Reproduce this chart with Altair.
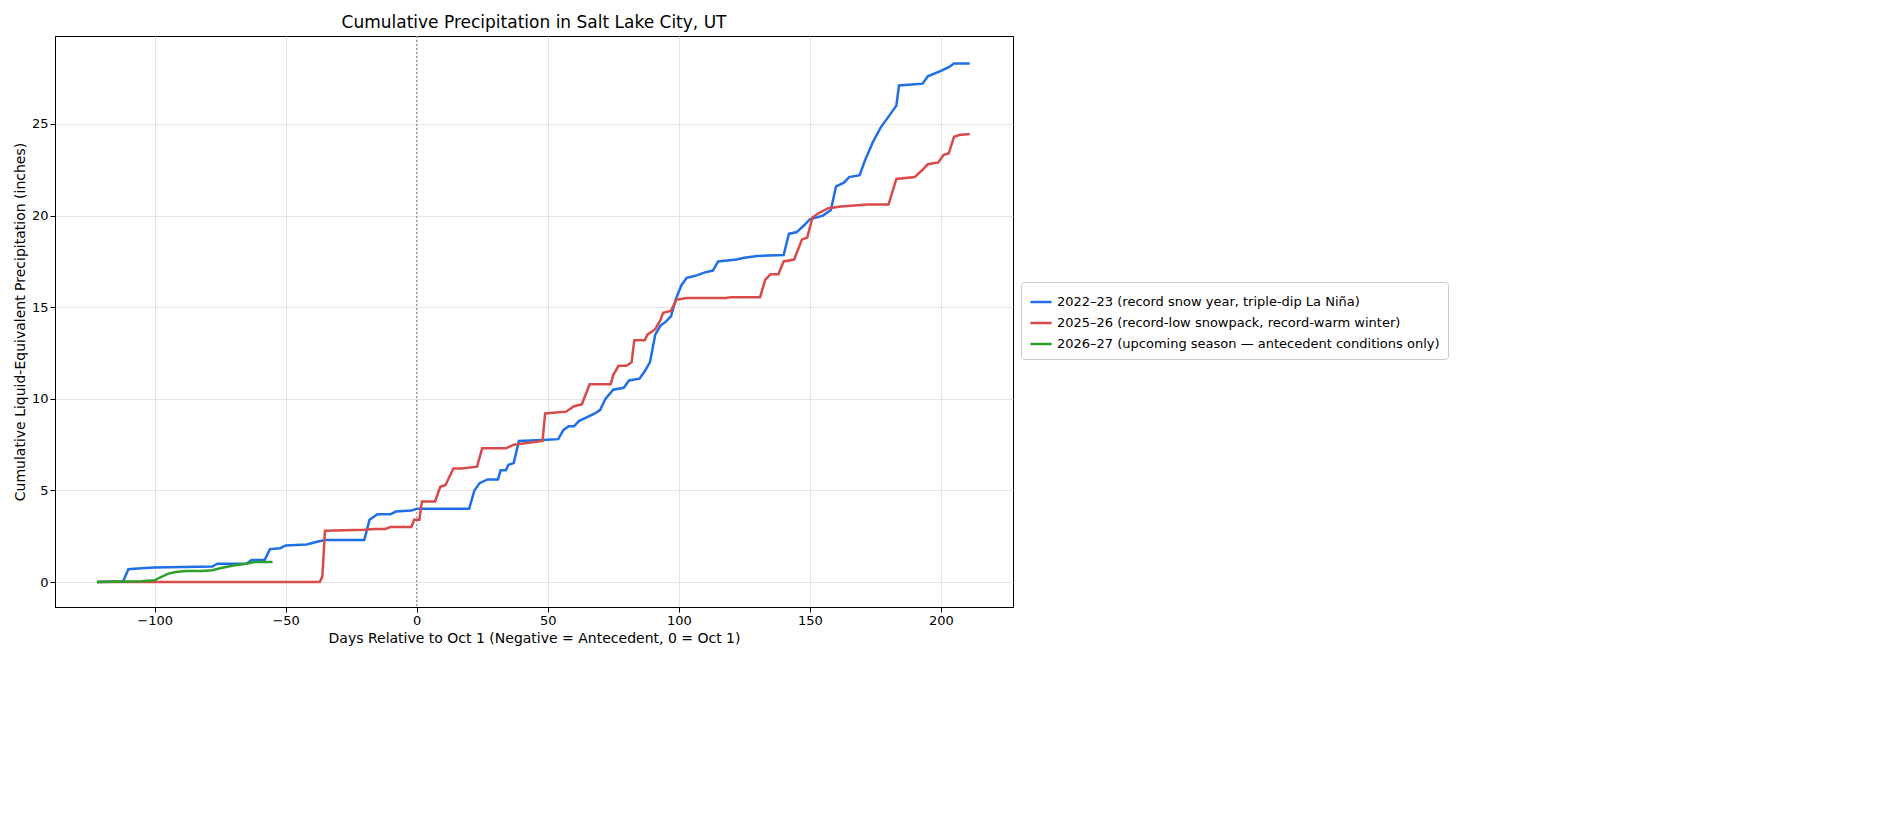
import pandas as pd
import altair as alt

blue_days = [-122, -112, -110, -105, -100, -78, -76, -65, -63, -58, -56, -52, -50, -42, -38, -35, -20, -18, -15, -10, -8, -2, 0, 20, 22, 24, 27, 31, 32, 34, 35, 37, 39, 48, 54, 56, 58, 60, 62, 65, 68, 70, 72, 75, 79, 81, 85, 87, 89, 91, 93, 95, 97, 99, 101, 103, 106, 110, 113, 115, 122, 125, 130, 140, 142, 145, 148, 150, 155, 158, 160, 163, 165, 169, 171, 174, 177, 180, 183, 184, 193, 195, 200, 203, 205, 211]
blue_vals = [0, 0.05, 0.7, 0.75, 0.8, 0.85, 1.0, 1.0, 1.2, 1.2, 1.8, 1.85, 2.0, 2.05, 2.2, 2.3, 2.3, 3.4, 3.7, 3.7, 3.85, 3.9, 4.0, 4.0, 5.0, 5.4, 5.6, 5.6, 6.1, 6.1, 6.4, 6.5, 7.7, 7.75, 7.8, 8.3, 8.5, 8.5, 8.8, 9.0, 9.2, 9.4, 10.0, 10.5, 10.6, 11.0, 11.1, 11.5, 12.0, 13.5, 14.0, 14.2, 14.5, 15.5, 16.2, 16.6, 16.7, 16.9, 17.0, 17.5, 17.6, 17.7, 17.8, 17.85, 19.0, 19.1, 19.5, 19.8, 20.0, 20.3, 21.6, 21.8, 22.1, 22.2, 23.0, 24.0, 24.8, 25.4, 26.0, 27.1, 27.2, 27.6, 27.9, 28.1, 28.3, 28.3]

red_days = [-122, -37, -36, -35, -20, -16, -12, -10, -2, -1, 1, 2, 7, 9, 11, 14, 17, 23, 25, 34, 37, 48, 49, 57, 60, 63, 66, 74, 75, 77, 80, 82, 83, 87, 88, 91, 93, 94, 97, 99, 103, 118, 120, 131, 133, 135, 138, 140, 144, 147, 149, 151, 153, 157, 162, 172, 180, 183, 190, 193, 195, 199, 201, 203, 205, 207, 211]
red_vals = [0, 0, 0.3, 2.8, 2.85, 2.9, 2.9, 3.0, 3.0, 3.4, 3.4, 4.4, 4.4, 5.2, 5.3, 6.2, 6.2, 6.3, 7.3, 7.3, 7.5, 7.7, 9.2, 9.3, 9.6, 9.7, 10.8, 10.8, 11.3, 11.8, 11.8, 12.0, 13.2, 13.2, 13.5, 13.8, 14.3, 14.7, 14.8, 15.4, 15.5, 15.5, 15.55, 15.55, 16.5, 16.8, 16.8, 17.5, 17.6, 18.7, 18.8, 19.9, 20.1, 20.4, 20.5, 20.6, 20.6, 22.0, 22.1, 22.5, 22.8, 22.9, 23.3, 23.4, 24.3, 24.4, 24.45]

green_days = [-122, -105, -100, -98, -95, -92, -88, -82, -78, -75, -70, -65, -62, -55]
green_vals = [0, 0.05, 0.1, 0.25, 0.45, 0.55, 0.6, 0.6, 0.65, 0.75, 0.9, 1.0, 1.1, 1.1]

labels = [
    "2022–23 (record snow year, triple-dip La Niña)",
    "2025–26 (record-low snowpack, record-warm winter)",
    "2026–27 (upcoming season — antecedent conditions only)",
]
colors = ["#1f6fe8", "#d94a4a", "#2ca02c"]

df = pd.concat([
    pd.DataFrame({"day": blue_days, "precip": blue_vals, "season": labels[0]}),
    pd.DataFrame({"day": red_days, "precip": red_vals, "season": labels[1]}),
    pd.DataFrame({"day": green_days, "precip": green_vals, "season": labels[2]}),
])

lines = alt.Chart(df).mark_line(strokeWidth=2.5).encode(
    x=alt.X("day:Q", title="Days Relative to Oct 1 (Negative = Antecedent, 0 = Oct 1)",
            scale=alt.Scale(domain=[-138, 227.5], nice=False),
            axis=alt.Axis(values=[-100, -50, 0, 50, 100, 150, 200])),
    y=alt.Y("precip:Q", title="Cumulative Liquid-Equivalent Precipitation (inches)",
            scale=alt.Scale(domain=[-1.36, 29.8], nice=False),
            axis=alt.Axis(values=[0, 5, 10, 15, 20, 25])),
    color=alt.Color("season:N", title=None,
                    scale=alt.Scale(domain=labels, range=colors),
                    legend=alt.Legend(orient="none", legendX=966, legendY=246,
                                      symbolType="stroke", symbolStrokeWidth=2.5,
                                      strokeColor="#cccccc", padding=8, cornerRadius=3,
                                      labelFontSize=13, labelLimit=600, symbolSize=450)),
    detail="season:N",
)

zero = alt.Chart(pd.DataFrame({"day": [0]})).mark_rule(
    color="gray", strokeDash=[2, 2], strokeWidth=1
).encode(x="day:Q")

chart = alt.layer(zero, lines).properties(
    width=958, height=571,
    title=alt.Title("Cumulative Precipitation in Salt Lake City, UT", fontSize=17, fontWeight="normal"),
).configure(font="DejaVu Sans").configure_axis(
    labelFontSize=13, titleFontSize=14, titleFontWeight="normal",
    gridColor="#e5e5e5", labelColor="black", titleColor="black",
    domainColor="black", tickColor="black",
).configure_view(stroke="black")

chart.save("out.html", embed_options={"renderer": "svg", "actions": False})
